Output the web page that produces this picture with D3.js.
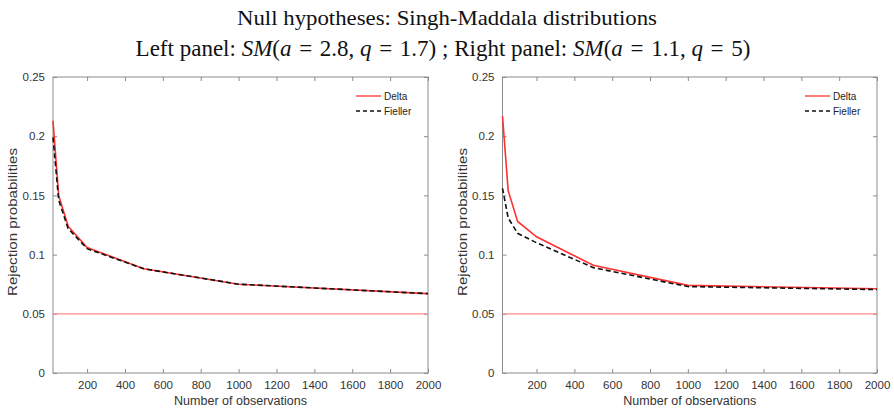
<!DOCTYPE html>
<html><head><meta charset="utf-8">
<script src="https://cdn.jsdelivr.net/npm/d3@7"></script>
<style>body{margin:0;background:#fff}svg{display:block}</style>
</head><body>
<script>
const nObs = [20, 50, 100, 200, 500, 1000, 2000];
const leftDelta   = [0.213, 0.150, 0.124, 0.106, 0.088, 0.075, 0.067];
const leftFieller = [0.199, 0.146, 0.122, 0.105, 0.088, 0.075, 0.067];
const rightDelta   = [0.217, 0.154, 0.128, 0.115, 0.091, 0.074, 0.0712];
const rightFieller = [0.156, 0.131, 0.118, 0.110, 0.089, 0.073, 0.0705];
const nominal = 0.05;
const xTicks = [200, 400, 600, 800, 1000, 1200, 1400, 1600, 1800, 2000];
const yTicks = [0, 0.05, 0.1, 0.15, 0.2, 0.25];
const yTickLabels = ["0", "0.05", "0.1", "0.15", "0.2", "0.25"];
const legendLabels = ["Delta", "Fieller"];

const W = 894, H = 412;
const svg = d3.select("body").append("svg").attr("width", W).attr("height", H);

// Title
const serif = "Liberation Serif, Times New Roman, serif";
svg.append("text").attr("x", 447).attr("y", 25).attr("text-anchor", "middle")
  .attr("font-family", serif).attr("font-size", 22).attr("fill", "#111")
  .attr("textLength", 420).attr("lengthAdjust", "spacingAndGlyphs")
  .text("Null hypotheses: Singh-Maddala distributions");
const t2 = svg.append("text").attr("x", 443).attr("y", 56).attr("text-anchor", "middle")
  .attr("font-family", serif).attr("font-size", 23).attr("fill", "#111");
const E = " \u200A";
const parts = [
  ["Left panel: ", false], ["SM", true], ["(", false], ["a", true], [E + "=" + E + "2.8, ", false], ["q", true], [E + "=" + E + "1.7)", false],
  [" ; Right panel: ", false], ["SM", true], ["(", false], ["a", true], [E + "=" + E + "1.1, ", false], ["q", true], [E + "=" + E + "5)", false]
];
parts.forEach(([s, it]) => t2.append("tspan").attr("font-style", it ? "italic" : "normal").text(s));

const panels = [
  {x0: 53, x1: 428, delta: leftDelta, fieller: leftFieller, legX: 356},
  {x0: 502.5, x1: 877, delta: rightDelta, fieller: rightFieller, legX: 805}
];
const yTop = 77, yBot = 373;
const axisColor = "#8c8c8c";
const font = "Liberation Sans, Arial, sans-serif";

panels.forEach(p => {
  const x = d3.scaleLinear().domain([20, 2000]).range([p.x0, p.x1]);
  const y = d3.scaleLinear().domain([0, 0.25]).range([yBot, yTop]);
  const g = svg.append("g");

  // frame
  g.append("rect").attr("x", p.x0).attr("y", yTop).attr("width", p.x1 - p.x0).attr("height", yBot - yTop)
    .attr("fill", "none").attr("stroke", axisColor).attr("stroke-width", 1);

  // axes (inward ticks)
  const ax = [
    d3.axisBottom(x).tickValues(xTicks).tickSizeInner(-4).tickSizeOuter(0).tickPadding(8).tickFormat(d3.format("d")),
    d3.axisTop(x).tickValues(xTicks).tickSizeInner(-4).tickSizeOuter(0).tickFormat(""),
    d3.axisLeft(y).tickValues(yTicks).tickSizeInner(-4).tickSizeOuter(0).tickPadding(8).tickFormat((d, i) => yTickLabels[i]),
    d3.axisRight(y).tickValues(yTicks).tickSizeInner(-4).tickSizeOuter(0).tickFormat("")
  ];
  const pos = [`translate(0,${yBot})`, `translate(0,${yTop})`, `translate(${p.x0},0)`, `translate(${p.x1},0)`];
  ax.forEach((a, i) => {
    const ag = g.append("g").attr("transform", pos[i]).call(a);
    ag.select(".domain").remove();
    ag.selectAll("line").attr("stroke", axisColor);
    ag.selectAll("text").attr("font-family", font).attr("font-size", 11.5).attr("fill", "#333");
  });

  // axis labels
  g.append("text").attr("x", (p.x0 + p.x1) / 2).attr("y", 405).attr("text-anchor", "middle")
    .attr("font-family", font).attr("font-size", 12.5).attr("fill", "#333")
    .attr("textLength", 133).attr("lengthAdjust", "spacingAndGlyphs").text("Number of observations");
  g.append("text").attr("transform", `translate(${p.x0 - 36},${(yTop + yBot) / 2 - 3}) rotate(-90)`)
    .attr("text-anchor", "middle").attr("font-family", font).attr("font-size", 12.5).attr("fill", "#333")
    .attr("textLength", 148).attr("lengthAdjust", "spacingAndGlyphs")
    .text("Rejection probabilities");

  // nominal line
  g.append("line").attr("x1", p.x0).attr("x2", p.x1).attr("y1", y(nominal)).attr("y2", y(nominal))
    .attr("stroke", "#ff8a8a").attr("stroke-width", 1.3);

  const line = d3.line().x((d, i) => x(nObs[i])).y(d => y(d));
  g.append("path").datum(p.delta).attr("d", line).attr("fill", "none")
    .attr("stroke", "#ff3030").attr("stroke-width", 1.6);
  g.append("path").datum(p.fieller).attr("d", line).attr("fill", "none")
    .attr("stroke", "#111").attr("stroke-width", 1.6).attr("stroke-dasharray", "5,3");

  // legend
  const ly = [96, 111];
  g.append("line").attr("x1", p.legX).attr("x2", p.legX + 25).attr("y1", ly[0]).attr("y2", ly[0])
    .attr("stroke", "#ff3030").attr("stroke-width", 1.3);
  g.append("line").attr("x1", p.legX).attr("x2", p.legX + 25).attr("y1", ly[1]).attr("y2", ly[1])
    .attr("stroke", "#111").attr("stroke-width", 1.3).attr("stroke-dasharray", "4,3");
  legendLabels.forEach((l, i) => g.append("text").attr("x", p.legX + 28).attr("y", ly[i] + 3.5)
    .attr("font-family", font).attr("font-size", 10).attr("fill", "#222").text(l));
});
</script>
</body></html>
